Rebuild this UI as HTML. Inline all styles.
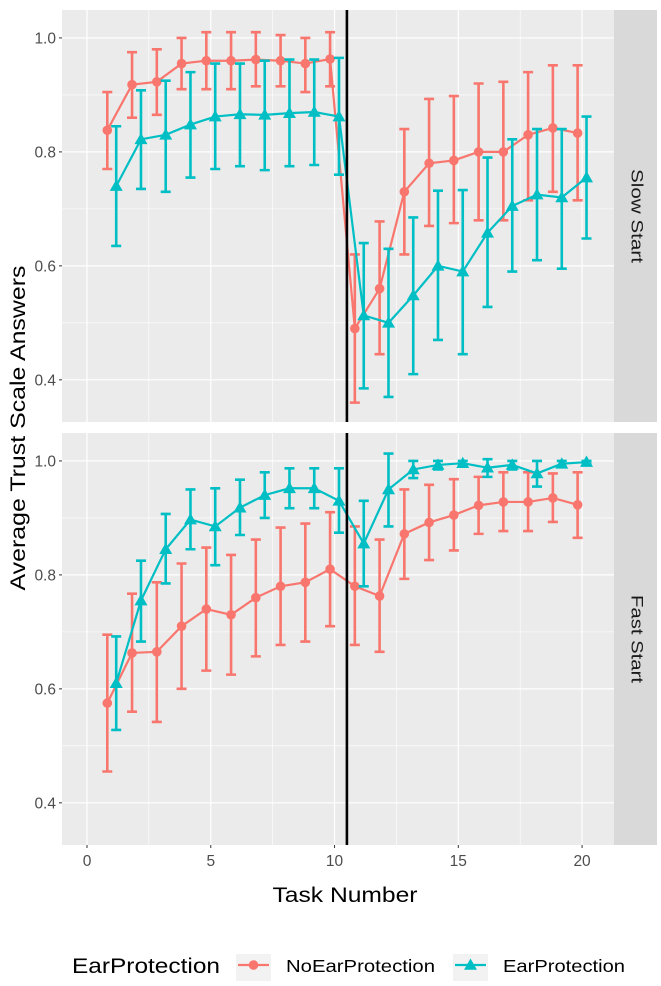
<!DOCTYPE html>
<html><head><meta charset="utf-8"><style>
body{margin:0;background:#fff;font-family:"Liberation Sans",sans-serif}
</style></head><body>
<svg id="c" width="661" height="981" xmlns="http://www.w3.org/2000/svg" font-family="Liberation Sans, sans-serif"></svg>
<script>
const tasks=[1,2,3,4,5,6,7,8,9,10,11,12,13,14,15,16,17,18,19,20];
const slowNoMean=[0.838,0.918,0.923,0.955,0.96,0.96,0.962,0.96,0.955,0.963,0.49,0.56,0.73,0.78,0.785,0.80,0.80,0.83,0.842,0.833];
const slowNoLo=[0.77,0.86,0.865,0.91,0.91,0.91,0.915,0.915,0.905,0.915,0.36,0.445,0.62,0.67,0.675,0.68,0.68,0.715,0.73,0.715];
const slowNoHi=[0.905,0.975,0.98,1.0,1.01,1.01,1.01,1.005,1.0,1.01,0.62,0.678,0.84,0.893,0.898,0.92,0.923,0.94,0.952,0.952];
const slowEarMean=[0.74,0.822,0.83,0.848,0.862,0.866,0.865,0.868,0.87,0.862,0.513,0.50,0.548,0.60,0.59,0.658,0.705,0.725,0.72,0.755];
const slowEarLo=[0.635,0.735,0.73,0.755,0.77,0.775,0.768,0.775,0.777,0.76,0.385,0.37,0.41,0.47,0.445,0.528,0.59,0.61,0.595,0.648];
const slowEarHi=[0.845,0.908,0.925,0.94,0.955,0.955,0.96,0.962,0.962,0.965,0.64,0.63,0.685,0.732,0.733,0.79,0.822,0.84,0.84,0.862];
const fastNoMean=[0.575,0.663,0.665,0.71,0.74,0.73,0.76,0.78,0.787,0.81,0.78,0.763,0.872,0.892,0.905,0.922,0.928,0.928,0.935,0.923];
const fastNoLo=[0.455,0.56,0.542,0.6,0.632,0.625,0.657,0.677,0.683,0.71,0.677,0.665,0.793,0.826,0.843,0.872,0.877,0.877,0.893,0.865];
const fastNoHi=[0.695,0.767,0.787,0.82,0.848,0.835,0.862,0.883,0.89,0.91,0.885,0.862,0.95,0.958,0.968,0.972,0.98,0.98,0.978,0.98];
const fastEarMean=[0.61,0.755,0.845,0.897,0.885,0.918,0.94,0.952,0.952,0.93,0.855,0.95,0.985,0.993,0.996,0.988,0.993,0.978,0.995,0.998];
const fastEarLo=[0.528,0.683,0.785,0.845,0.817,0.87,0.9,0.917,0.917,0.874,0.78,0.885,0.97,0.985,0.992,0.972,0.985,0.955,0.99,0.995];
const fastEarHi=[0.692,0.825,0.907,0.95,0.952,0.967,0.98,0.987,0.987,0.987,0.93,1.013,1.0,1.0,1.0,1.003,1.0,1.0,1.0,1.0];
const xTicks=[0,5,10,15,20];
const yTicks=[0.4,0.6,0.8,1.0];
const yTickLabels=["0.4","0.6","0.8","1.0"];
const facets=["Slow Start","Fast Start"];
const vline=10.5;

const svg=document.getElementById('c');
const NS="http://www.w3.org/2000/svg";
function mk(t,a,p){const e=document.createElementNS(NS,t);for(const k in a)e.setAttribute(k,a[k]);(p||svg).appendChild(e);return e;}
const X0=62,X1=614,xMin=-1.01,xMax=21.29;
const sx=v=>X0+(v-xMin)/(xMax-xMin)*(X1-X0);
const panels=[{top:10,bot:422},{top:433,bot:845}];
const yMin=0.326,yMax=1.049;
const RED="#F8766D",CY="#00BFC4";
const stripLen=[94,88];
const data=[[slowNoMean,slowNoLo,slowNoHi,slowEarMean,slowEarLo,slowEarHi],[fastNoMean,fastNoLo,fastNoHi,fastEarMean,fastEarLo,fastEarHi]];
panels.forEach((p,pi)=>{
  const sy=v=>p.bot-(v-yMin)/(yMax-yMin)*(p.bot-p.top);
  const g=mk('g',{});
  
  
  mk('rect',{x:X0,y:p.top,width:X1-X0,height:p.bot-p.top,fill:'#EBEBEB'},g);
  for(let i=0;i<yTicks.length-1;i++){const v=(yTicks[i]+yTicks[i+1])/2;mk('line',{x1:X0,x2:X1,y1:sy(v),y2:sy(v),stroke:'#fff','stroke-width':0.6},g);}
  for(let i=0;i<xTicks.length-1;i++){const v=(xTicks[i]+xTicks[i+1])/2;mk('line',{y1:p.top,y2:p.bot,x1:sx(v),x2:sx(v),stroke:'#fff','stroke-width':0.6},g);}
  yTicks.forEach((v,i)=>{mk('line',{x1:X0,x2:X1,y1:sy(v),y2:sy(v),stroke:'#fff','stroke-width':1.2},g);
    mk('line',{x1:X0-3,x2:X0,y1:sy(v),y2:sy(v),stroke:'#333','stroke-width':1},g);
    const t=mk('text',{x:X0-6,y:sy(v)+5.5,'text-anchor':'end','font-size':15.5,fill:'#4D4D4D'},g);t.textContent=yTickLabels[i];
    });
  xTicks.forEach(v=>mk('line',{y1:p.top,y2:p.bot,x1:sx(v),x2:sx(v),stroke:'#fff','stroke-width':1.2},g));
  mk('rect',{x:614,y:p.top,width:43,height:p.bot-p.top,fill:'#D9D9D9'},g);
  const cy=(p.top+p.bot)/2;
  const st=mk('text',{x:636,y:cy,'text-anchor':'middle','font-size':17,fill:'#1A1A1A',transform:`rotate(90 636 ${cy})`,'dominant-baseline':'middle',textLength:stripLen[pi],lengthAdjust:'spacingAndGlyphs'},g);
  st.textContent=facets[pi];
  const d=data[pi];
  [[d[0],d[1],d[2],RED,-0.18,'circle'],[d[3],d[4],d[5],CY,0.18,'tri']].forEach(([m,lo,hi,col,off,shape])=>{
    const sg=mk('g',{},g);
    
    
    mk('polyline',{points:tasks.map((t,i)=>sx(t+off)+','+sy(m[i])).join(' '),fill:'none',stroke:col,'stroke-width':2.2},sg);
    tasks.forEach((t,i)=>{const x=sx(t+off),w=5;
      mk('path',{d:`M${x-w},${sy(hi[i])}H${x+w}M${x},${sy(hi[i])}V${sy(lo[i])}M${x-w},${sy(lo[i])}H${x+w}`,stroke:col,'stroke-width':2.6,fill:'none'},sg);
      let e;
      if(shape==='circle')e=mk('circle',{cx:x,cy:sy(m[i]),r:4.8,fill:col},sg);
      else{const y=sy(m[i]);e=mk('path',{d:`M${x},${y-6.5}L${x+6.5},${y+4.8}L${x-6.5},${y+4.8}Z`,fill:col},sg);}
      });
  });
  mk('line',{x1:sx(vline),x2:sx(vline),y1:p.top,y2:p.bot,stroke:'#000','stroke-width':2.6},g);
});
xTicks.forEach(v=>{mk('line',{x1:sx(v),x2:sx(v),y1:845,y2:848,stroke:'#333'});
  const t=mk('text',{x:sx(v),y:866,'text-anchor':'middle','font-size':15.5,fill:'#4D4D4D'});t.textContent=v;
  });
let t=mk('text',{x:345,y:902,'text-anchor':'middle','font-size':21,fill:'#000',textLength:145,lengthAdjust:'spacingAndGlyphs'});t.textContent='Task Number';

t=mk('text',{x:25,y:428,'text-anchor':'middle','font-size':21,fill:'#000',transform:'rotate(-90 25 428)',textLength:325,lengthAdjust:'spacingAndGlyphs'});t.textContent='Average Trust Scale Answers';

const lg=mk('g',{});
t=mk('text',{x:72,y:973,'font-size':21,fill:'#000',textLength:148,lengthAdjust:'spacingAndGlyphs'},lg);t.textContent='EarProtection';

[[236,RED,'circle','NoEarProtection',286,149],[453,CY,'tri','EarProtection',503,122]].forEach(([x,col,sh,lab,tx,tl])=>{
  const e=mk('g',{},lg);
  mk('rect',{x:x,y:954,width:35,height:27,fill:'#F2F2F2'},e);
  mk('line',{x1:x+2,x2:x+33,y1:965,y2:965,stroke:col,'stroke-width':2.2},e);
  if(sh==='circle')mk('circle',{cx:x+17.5,cy:965,r:4.8,fill:col},e);
  else mk('path',{d:`M${x+17.5},${958.5}L${x+24},${969.8}L${x+11},${969.8}Z`,fill:col},e);
  const tt=mk('text',{x:tx,y:972,'font-size':17.5,fill:'#000',textLength:tl,lengthAdjust:'spacingAndGlyphs'},e);tt.textContent=lab;
});
</script>
</body></html>
